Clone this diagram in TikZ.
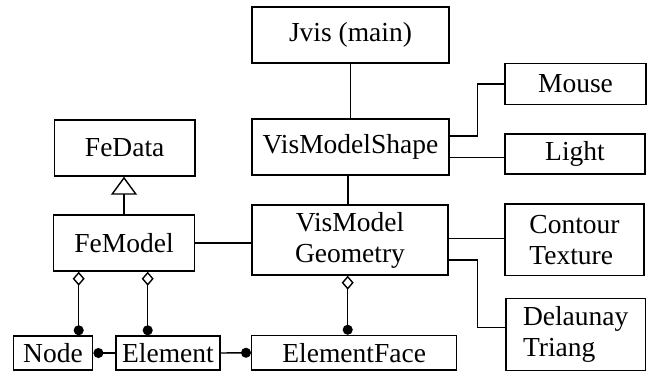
\documentclass[tikz,border=0pt]{standalone}
\usepackage{fontspec}
\setmainfont{Liberation Serif}
\usetikzlibrary{arrows.meta}
\begin{document}
\begin{tikzpicture}[x=1pt,y=-1pt,
  box/.style={draw,line width=1.4pt,rectangle,inner sep=0pt,font=\fontsize{27.5}{31}\selectfont,align=center},
  conn/.style={line width=1.4pt},
  agg/.style={conn,{Diamond[open,length=14pt,width=12pt]}-{Circle[length=10pt]}},
  dotend/.style={conn,-{Circle[length=10pt]}},
  dotstart/.style={conn,{Circle[length=10pt]}-},
  inherit/.style={conn,-{Triangle[open,length=18pt,width=26pt]}}]
\useasboundingbox (0,0) rectangle (647,373);
\node[box,minimum width=197pt,minimum height=56pt] (jvis) at (350.5,35) {Jvis (main)};
\node[box,minimum width=197pt,minimum height=56pt] (vshape) at (350.5,147) {VisModelShape};
\node[box,minimum width=196pt,minimum height=70pt] (geom) at (350,240) {VisModel\\Geometry};
\node[box,minimum width=140.5pt,minimum height=56pt] (fedata) at (124.7,148) {FeData};
\node[box,minimum width=141pt,minimum height=56pt] (femodel) at (124,243) {FeModel};
\node[box,minimum width=141pt,minimum height=41pt] (mouse) at (575.5,84) {Mouse};
\node[box,minimum width=140pt,minimum height=40pt] (light) at (575,154) {Light};
\node[box,minimum width=139pt,minimum height=71.5pt,align=left] (contour) at (574.5,239.7) {Contour\\Texture};
\node[box,minimum width=139.5pt,minimum height=72pt,align=left] (delaunay) at (575.7,334.5) {Delaunay\\Triang};
\node[box,minimum width=79.4pt,minimum height=34pt] (nodebox) at (53,353) {Node};
\node[box,minimum width=104pt,minimum height=34pt] (element) at (168,353) {Element};
\node[box,minimum width=205pt,minimum height=34.5pt] (eface) at (354.2,352.7) {ElementFace};

\draw[conn] (jvis.south) -- (jvis.south |- vshape.north);
\draw[conn] ([xshift=-2.5pt]vshape.south) -- ([xshift=-2.5pt]vshape.south |- geom.north);
\draw[conn] (femodel.east) -- (femodel.east -| geom.west);
\draw[inherit] (femodel.north) -- (femodel.north |- fedata.south);

\draw[conn] ([yshift=11pt]vshape.east) -- ++(28pt,0) |- (mouse.west);
\draw[conn] ([yshift=-10.7pt]vshape.east) -- ([yshift=-10.7pt]vshape.east -| light.west);
\draw[conn] ([yshift=1.7pt]geom.east) -- ([yshift=1.7pt]geom.east -| contour.west);
\draw[conn] ([yshift=-20pt]geom.east) -- ++(28.7pt,0) |- ([yshift=7.2pt]delaunay.west);

\draw[agg] ([xshift=-45.3pt]femodel.south) -- ([xshift=-45.3pt]femodel.south |- nodebox.north);
\draw[agg] ([xshift=23.7pt]femodel.south) -- ([xshift=23.7pt]femodel.south |- element.north);
\draw[agg] ([xshift=-2.3pt]geom.south) -- ([xshift=-2.3pt]geom.south |- eface.north);

\draw[dotstart] (nodebox.east) -- (element.west);
\draw[dotend] (element.east) -- (eface.west);
\end{tikzpicture}
\end{document}
